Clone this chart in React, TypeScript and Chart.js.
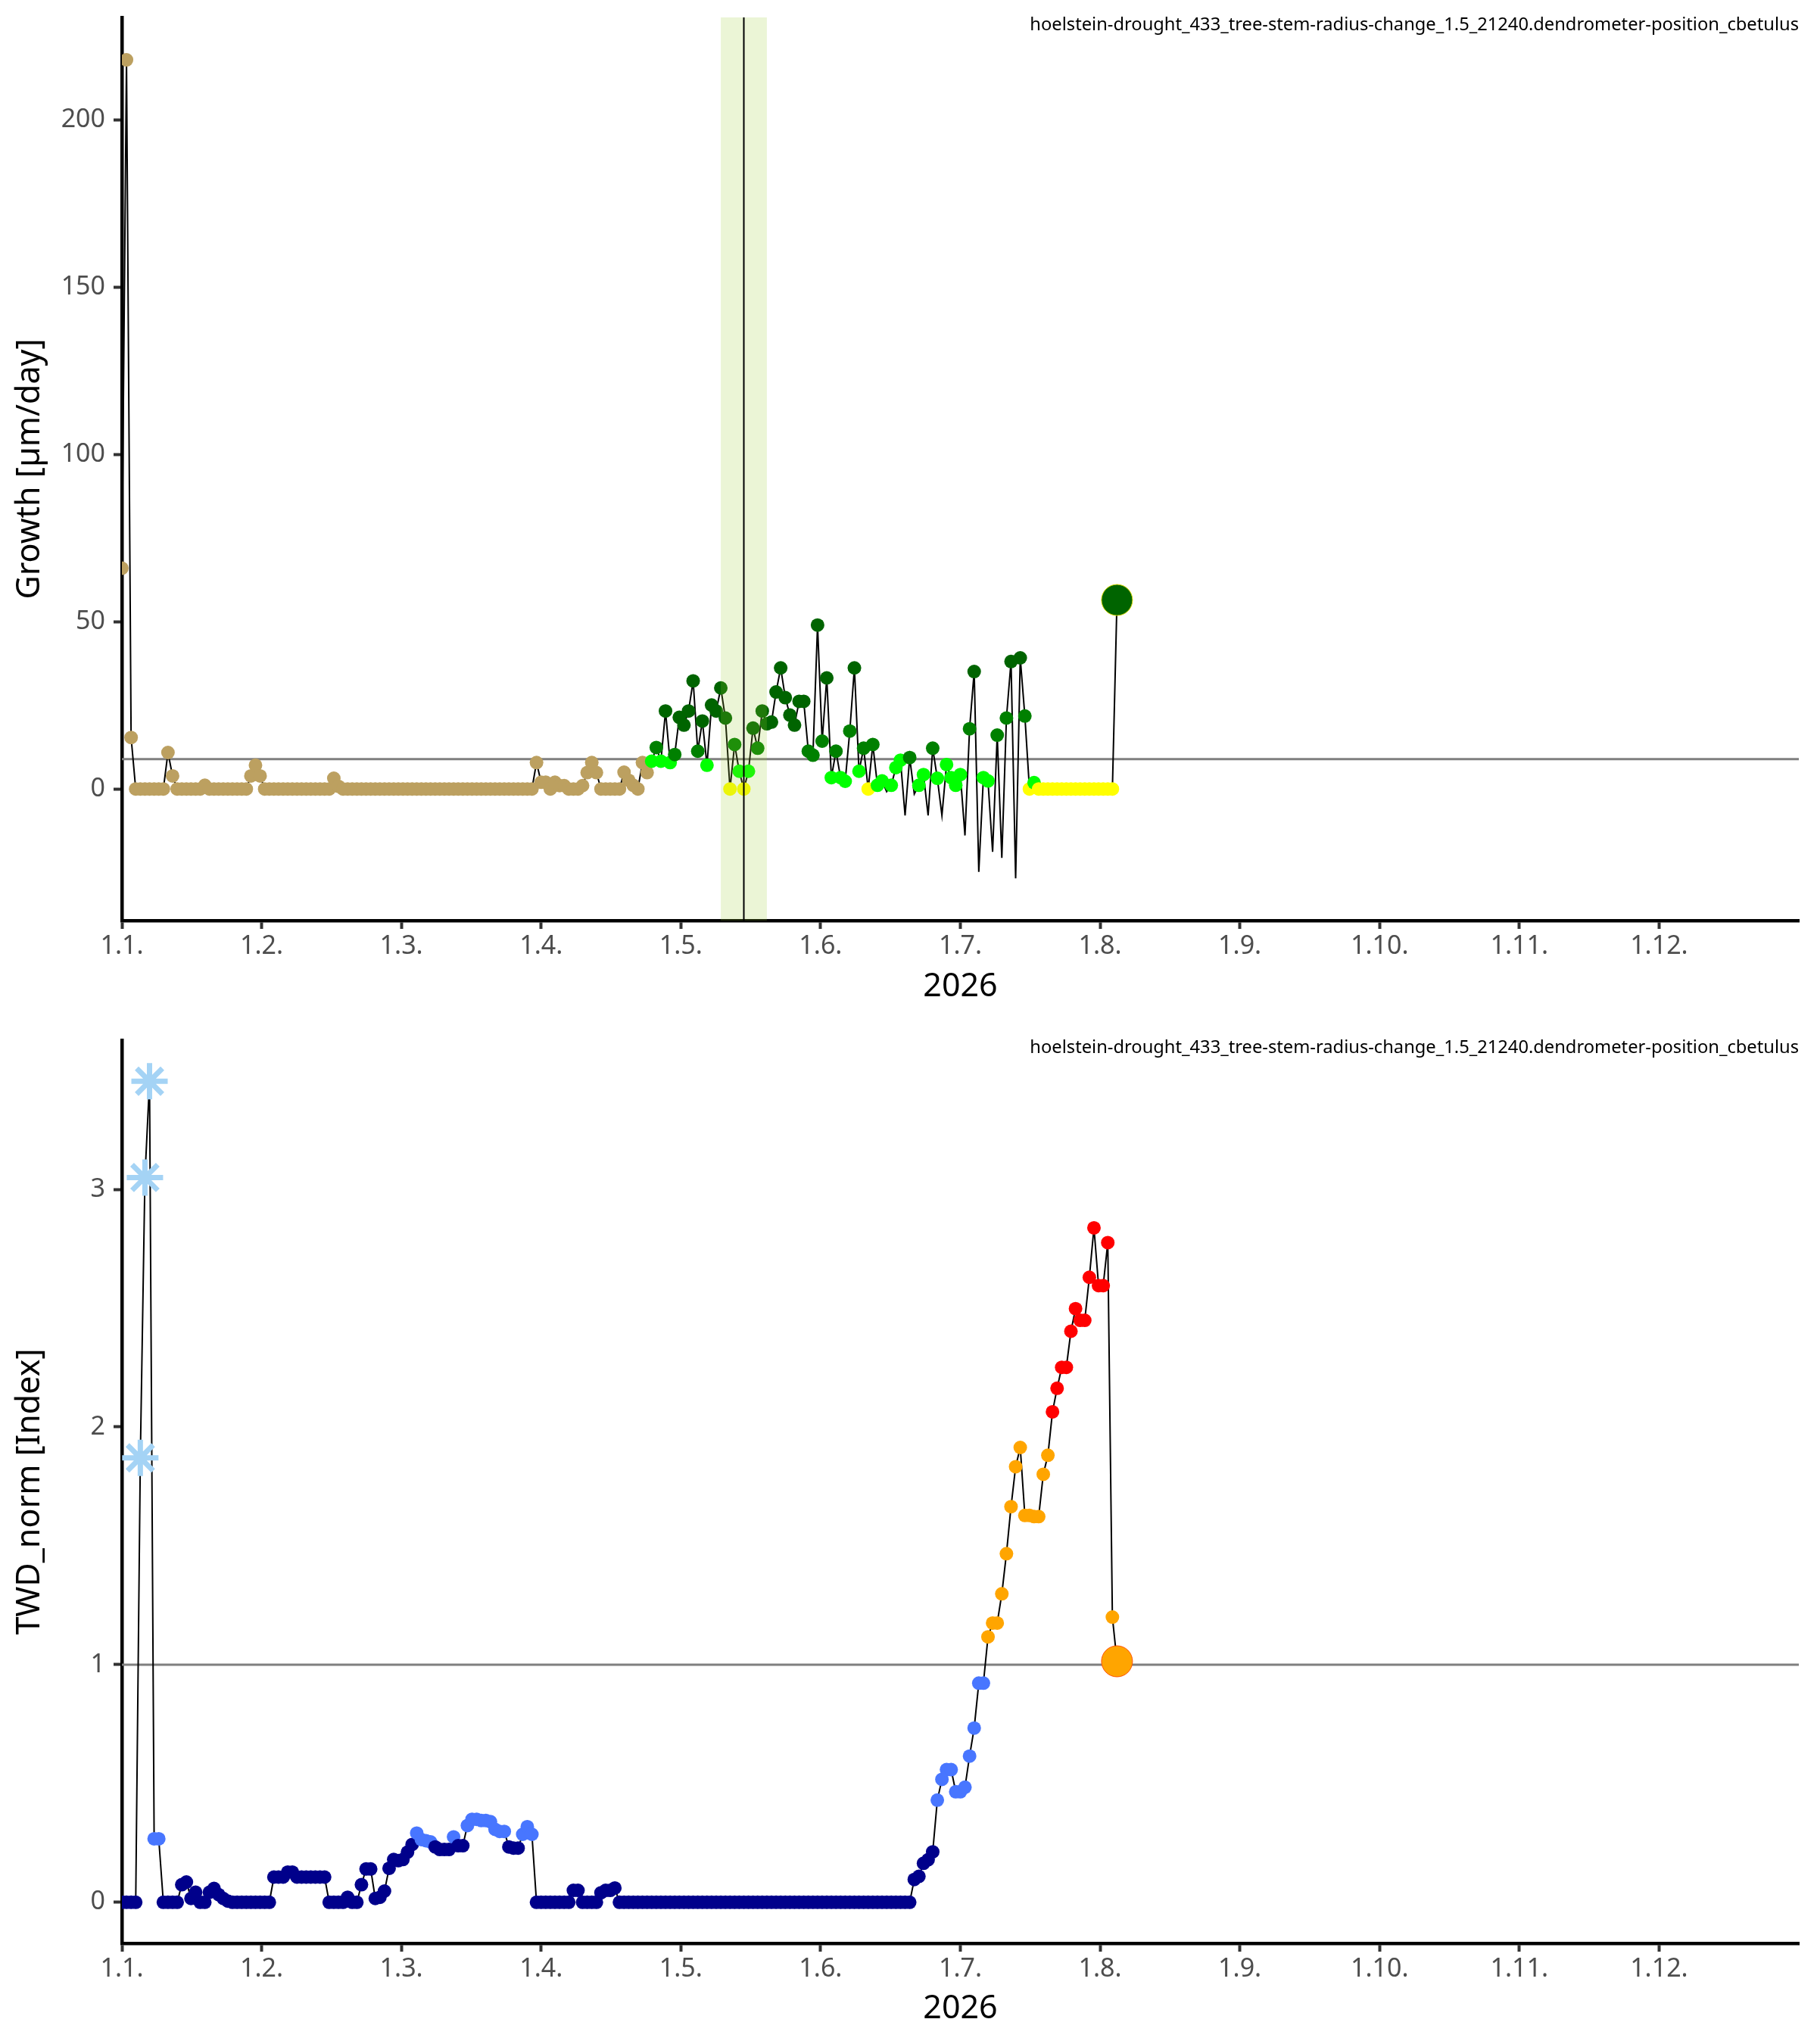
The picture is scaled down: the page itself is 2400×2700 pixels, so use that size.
import React, { useEffect, useRef } from "react";
import { Chart, registerables } from "chart.js";

Chart.register(...registerables);

// ---------------- data ----------------
const monthLabels = ["1.1.", "1.2.", "1.3.", "1.4.", "1.5.", "1.6.", "1.7.", "1.8.", "1.9.", "1.10.", "1.11.", "1.12."];
const axisDays = 364;
const growthTicks = [0, 50, 100, 150, 200];
const twdTicks = [0, 1, 2, 3];
const growthRefLine = 8.9;
const twdRefLine = 1;
const bandStartDay = 130;
const bandEndDay = 140;
const eventDay = 135;
const seriesTitle = "hoelstein-drought_433_tree-stem-radius-change_1.5_21240.dendrometer-position_cbetulus";
const xTitle = "2026";
const growthTitle = "Growth [µm/day]";
const twdTitle = "TWD_norm [Index]";

// daily growth, day 0 = 1 Jan
const growthValues = [
  66, 218, 15.4, 0, 0, 0, 0, 0, 0, 0,
  10.9, 3.9, 0, 0, 0, 0, 0, 0, 1.1, 0,
  0, 0, 0, 0, 0, 0, 0, 0, 3.9, 7.1,
  3.9, 0, 0, 0, 0, 0, 0, 0, 0, 0,
  0, 0, 0, 0, 0, 0, 3.2, 0.8, 0, 0,
  0, 0, 0, 0, 0, 0, 0, 0, 0, 0,
  0, 0, 0, 0, 0, 0, 0, 0, 0, 0,
  0, 0, 0, 0, 0, 0, 0, 0, 0, 0,
  0, 0, 0, 0, 0, 0, 0, 0, 0, 0,
  7.9, 2, 2, 0, 2, 1, 1, 0, 0, 0,
  1, 4.9, 7.9, 4.9, 0, 0, 0, 0, 0, 5,
  2.6, 1.1, 0, 7.9, 4.9, 8.3, 12.4, 8.3, 23.3, 7.9,
  10.3, 21.4, 19.1, 23.3, 32.3, 11.3, 20.3, 7.1, 25.1, 23.3,
  30.2, 21.2, 0, 13.3, 5.3, 0, 5.3, 18.2, 12.2, 23.3,
  19.5, 20, 29, 36.2, 27.3, 22.1, 19.1, 26.2, 26.2, 11.3,
  10.1, 49, 14.3, 33.2, 3.4, 11.3, 3.4, 2.3, 17.3, 36.2,
  5.3, 12.2, 0, 13.3, 1.1, 2.4, -0.8, 1.1, 6.4, 8.6,
  -7.9, 9.4, -1.5, 1.1, 4.3, -7.9, 12.2, 3.2, -7.9, 7.3,
  3.4, 1.1, 4.3, -13.9, 18, 35.1, -24.8, 3.4, 2.4, -18.8,
  16.1, -20.6, 21.2, 38.1, -26.7, 39.2, 21.8, 0, 1.9, 0,
  0, 0, 0, 0, 0, 0, 0, 0, 0, 0,
  0, 0, 0, 0, 0, 0, 56.5,
];

// t=pre-season, y=zero, l=low, g=medium, d=high, n=negative (no marker), D=latest
const growthClass = (
  "tttttttttt" + "tttttttttt" + "tttttttttt" + "tttttttttt" + "tttttttttt" +
  "tttttttttt" + "tttttttttt" + "tttttttttt" + "tttttttttt" + "tttttttttt" +
  "tttttttttt" + "tttttlgldl" + "gddddgdldd" + "ddyglyldgd" + "dddddddddg" +
  "gdgdlgllgd" + "lgygllnlll" + "ngnllnglnl" + "lllngdnlln" + "gngdndgyly" +
  "yyyyyyyyyy" + "yyyyyyD"
).split("");

// daily TWD_norm, day 0 = 1 Jan
const twdValues = [
  0, 0, 0, 0, 1.87, 3.05, 3.455, 0.267, 0.267, 0,
  0, 0, 0, 0.074, 0.085, 0.016, 0.042, 0, 0, 0.042,
  0.058, 0.032, 0.016, 0.005, 0, 0, 0, 0, 0, 0,
  0, 0, 0, 0.106, 0.106, 0.106, 0.127, 0.127, 0.106, 0.106,
  0.106, 0.106, 0.106, 0.106, 0.106, 0, 0, 0, 0, 0.021,
  0, 0, 0.074, 0.14, 0.14, 0.016, 0.021, 0.047, 0.143, 0.18,
  0.175, 0.18, 0.211, 0.243, 0.291, 0.264, 0.259, 0.254, 0.233, 0.222,
  0.222, 0.222, 0.275, 0.238, 0.238, 0.323, 0.349, 0.349, 0.344, 0.344,
  0.339, 0.307, 0.298, 0.298, 0.233, 0.228, 0.228, 0.286, 0.318, 0.286,
  0, 0, 0, 0, 0, 0, 0, 0, 0.05, 0.05,
  0, 0, 0, 0, 0.04, 0.05, 0.05, 0.06, 0, 0,
  0, 0, 0, 0, 0, 0, 0, 0, 0, 0,
  0, 0, 0, 0, 0, 0, 0, 0, 0, 0,
  0, 0, 0, 0, 0, 0, 0, 0, 0, 0,
  0, 0, 0, 0, 0, 0, 0, 0, 0, 0,
  0, 0, 0, 0, 0, 0, 0, 0, 0, 0,
  0, 0, 0, 0, 0, 0, 0, 0, 0, 0,
  0, 0, 0.096, 0.109, 0.164, 0.179, 0.212, 0.43, 0.517, 0.558,
  0.558, 0.465, 0.465, 0.484, 0.615, 0.733, 0.922, 0.922, 1.117, 1.175,
  1.175, 1.298, 1.467, 1.665, 1.833, 1.914, 1.628, 1.628, 1.623, 1.623,
  1.801, 1.881, 2.064, 2.163, 2.251, 2.251, 2.403, 2.498, 2.449, 2.449,
  2.63, 2.838, 2.595, 2.595, 2.776, 1.2, 1.014,
];

// n=none, s=snow/frost, r=low, o=moderate, R=high, O=latest
const twdClass = (
  "nnnnsssrrn" + "nnnnnnnnnn" + "nnnnnnnnnn" + "nnnnnnnnnn" + "nnnnnnnnnn" +
  "nnnnnnnnnn" + "nnnnrrrrnn" + "nnrnnrrrrr" + "rrrrnnnrrr" + "nnnnnnnnnn" +
  "nnnnnnnnnn" + "nnnnnnnnnn" + "nnnnnnnnnn" + "nnnnnnnnnn" + "nnnnnnnnnn" +
  "nnnnnnnnnn" + "nnnnnnnnnn" + "nnnnnnnrrr" + "rrrrrrrroo" + "oooooooooo" +
  "ooRRRRRRRR" + "RRRRRoO"
).split("");

// ---------------- styles ----------------
type PStyle = { bg: string; r: number; border?: string; bw?: number; shape?: string };

const growthStyles: Record<string, PStyle> = {
  t: { bg: "#BCA060", r: 9 },
  y: { bg: "#FFFF00", r: 9 },
  l: { bg: "#00FF00", r: 9 },
  g: { bg: "#008000", r: 9 },
  d: { bg: "#006400", r: 9 },
  n: { bg: "rgba(0,0,0,0)", r: 0 },
  D: { bg: "#006400", r: 20.5, border: "#D8D800", bw: 1 },
};

const twdStyles: Record<string, PStyle> = {
  n: { bg: "#00008B", r: 9 },
  s: { bg: "#A4D3F5", r: 24, border: "#A4D3F5", bw: 7, shape: "star" },
  r: { bg: "#4876FF", r: 9 },
  o: { bg: "#FFA500", r: 9 },
  R: { bg: "#FF0000", r: 9 },
  O: { bg: "#FFA500", r: 20.5, border: "#FF5000", bw: 1 },
};

const FONT = "'Noto Sans', 'Open Sans', sans-serif";

function buildConfig(opts: {
  values: number[];
  classes: string[];
  styles: Record<string, PStyle>;
  yMin: number;
  yMax: number;
  yTicks: number[];
  yTitle: string;
  refLine: number;
  padTop: number;
  xAxisHeight: number;
  xTitlePad: number;
  band: boolean;
}) {
  const points = opts.values.map((v, i) => ({ x: i, y: v }));
  const st = opts.classes.map((c) => opts.styles[c]);

  const refLinePlugin = {
    id: "refLine",
    beforeDatasetsDraw(chart: any) {
      const { ctx, chartArea, scales } = chart;
      const y = scales.y.getPixelForValue(opts.refLine);
      ctx.save();
      ctx.strokeStyle = "#7F7F7F";
      ctx.lineWidth = 3;
      ctx.beginPath();
      ctx.moveTo(chartArea.left, y);
      ctx.lineTo(chartArea.right, y);
      ctx.stroke();
      ctx.restore();
    },
  };

  const bandPlugin = {
    id: "band",
    afterDatasetsDraw(chart: any) {
      if (!opts.band) return;
      const { ctx, chartArea, scales } = chart;
      const x0 = scales.x.getPixelForValue(bandStartDay);
      const x1 = scales.x.getPixelForValue(bandEndDay);
      const xe = scales.x.getPixelForValue(eventDay);
      ctx.save();
      ctx.fillStyle = "rgba(154,205,50,0.2)";
      ctx.fillRect(x0, chartArea.top, x1 - x0, chartArea.bottom - chartArea.top);
      ctx.strokeStyle = "#000";
      ctx.lineWidth = 2;
      ctx.beginPath();
      ctx.moveTo(xe, chartArea.top);
      ctx.lineTo(xe, chartArea.bottom);
      ctx.stroke();
      ctx.restore();
    },
  };

  const titlePlugin = {
    id: "seriesTitle",
    afterDraw(chart: any) {
      const { ctx, chartArea } = chart;
      ctx.save();
      ctx.font = `23.7px ${FONT}`;
      ctx.fillStyle = "#000";
      ctx.textAlign = "right";
      ctx.textBaseline = "middle";
      ctx.fillText(seriesTitle, chartArea.right, chartArea.top + 10);
      ctx.restore();
    },
  };

  const tickFont = { family: FONT, size: 34 };
  const titleFont = { family: FONT, size: 43 };

  return {
    type: "line",
    data: {
      datasets: [
        {
          data: points,
          borderColor: "#000",
          borderWidth: 2,
          tension: 0,
          fill: false,
          clip: 0,
          pointBackgroundColor: st.map((s) => s.bg),
          pointBorderColor: st.map((s) => s.border || s.bg),
          pointBorderWidth: st.map((s) => s.bw || 0),
          pointRadius: st.map((s) => s.r),
          pointHoverRadius: st.map((s) => s.r),
          pointStyle: st.map((s) => s.shape || "circle"),
        },
      ],
    },
    options: {
      animation: false,
      responsive: false,
      devicePixelRatio: 1,
      events: [],
      layout: { padding: { top: opts.padTop, right: 24, left: 0, bottom: 0 } },
      plugins: { legend: { display: false }, tooltip: { enabled: false } },
      scales: {
        x: {
          type: "linear",
          min: 0,
          max: axisDays,
          afterBuildTicks: (s: any) => {
            s.ticks = monthLabels.map((_, i) => ({ value: (i * axisDays) / 12 }));
          },
          afterFit: (s: any) => {
            s.height = opts.xAxisHeight;
            s.paddingLeft = 0;
            s.paddingRight = 0;
          },
          ticks: {
            autoSkip: false,
            maxRotation: 0,
            minRotation: 0,
            padding: 3,
            color: "#4D4D4D",
            font: tickFont,
            callback: (_v: any, i: number) => monthLabels[i],
          },
          grid: {
            display: true,
            drawOnChartArea: false,
            drawTicks: true,
            tickLength: 11,
            tickWidth: 4,
            tickColor: "#333333",
          },
          border: { display: true, color: "#000", width: 4.5 },
          title: {
            display: true,
            text: xTitle,
            color: "#000",
            font: titleFont,
            padding: { top: 0, bottom: opts.xTitlePad },
          },
        },
        y: {
          type: "linear",
          min: opts.yMin,
          max: opts.yMax,
          afterBuildTicks: (s: any) => {
            s.ticks = opts.yTicks.map((v) => ({ value: v }));
          },
          afterFit: (s: any) => {
            s.width = 161;
            s.paddingTop = 0;
            s.paddingBottom = 0;
          },
          ticks: {
            padding: 11,
            color: "#4D4D4D",
            font: tickFont,
          },
          grid: {
            display: true,
            drawOnChartArea: false,
            drawTicks: true,
            tickLength: 11,
            tickWidth: 4,
            tickColor: "#333333",
          },
          border: { display: true, color: "#000", width: 4.5 },
          title: {
            display: true,
            text: opts.yTitle,
            color: "#000",
            font: titleFont,
            padding: { top: 14, bottom: 0 },
          },
        },
      },
    },
    plugins: [refLinePlugin, bandPlugin, titlePlugin],
  } as any;
}

function ChartCanvas({ top, height, config }: { top: number; height: number; config: () => any }) {
  const ref = useRef<HTMLCanvasElement | null>(null);
  useEffect(() => {
    if (!ref.current) return;
    const chart = new Chart(ref.current, config());
    return () => chart.destroy();
  }, []);
  return (
    <canvas
      ref={ref}
      width={2400}
      height={height}
      style={{ position: "absolute", left: 0, top, width: 2400, height, display: "block" }}
    />
  );
}

export default function App() {
  return (
    <div style={{ position: "absolute", left: 0, top: 0, width: 2400, height: 2700, background: "#fff" }}>
      <ChartCanvas
        top={0}
        height={1340}
        config={() =>
          buildConfig({
            values: growthValues,
            classes: growthClass,
            styles: growthStyles,
            yMin: -39.35,
            yMax: 230.7,
            yTicks: growthTicks,
            yTitle: growthTitle,
            refLine: growthRefLine,
            padTop: 23,
            xAxisHeight: 124,
            xTitlePad: 10,
            band: true,
          })
        }
      />
      <ChartCanvas
        top={1340}
        height={1360}
        config={() =>
          buildConfig({
            values: twdValues,
            classes: twdClass,
            styles: twdStyles,
            yMin: -0.1728,
            yMax: 3.628,
            yTicks: twdTicks,
            yTitle: twdTitle,
            refLine: twdRefLine,
            padTop: 34,
            xAxisHeight: 133,
            xTitlePad: 20,
            band: false,
          })
        }
      />
    </div>
  );
}
